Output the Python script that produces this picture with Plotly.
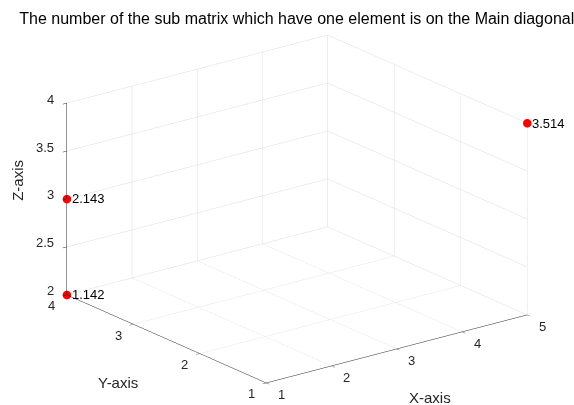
import plotly.graph_objects as go
import numpy as np

x_vals = [1, 1, 5]
y_vals = [4, 4, 1]
z_vals = [2, 3, 4]
labels = ["1.142", "2.143", "3.514"]

x_ticks = [1, 2, 3, 4, 5]
y_ticks = [1, 2, 3, 4]
z_ticks = [2, 2.5, 3, 3.5, 4]
z_tick_text = ["2", "2.5", "3", "3.5", "4"]

X_RANGE = [1, 5]
Y_RANGE = [1, 4]
Z_RANGE = [2, 4]

FONT = "Liberation Sans"
TICK_FONT = dict(family=FONT, size=13, color="#262626")
TITLE_FONT = dict(family=FONT, size=15, color="#262626")

fig = go.Figure()
fig.add_trace(go.Scatter3d(
    x=x_vals, y=y_vals, z=z_vals,
    mode="markers",
    marker=dict(size=5, color="#ff0000", line=dict(width=0)),
    hoverinfo="skip",
))

annotations = []
# data labels
for xv, yv, zv, t in zip(x_vals, y_vals, z_vals, labels):
    annotations.append(dict(x=xv, y=yv, z=zv, text=t, showarrow=False,
                            xanchor="left", yanchor="middle", xshift=3, yshift=0,
                            font=dict(family=FONT, size=13, color="#000000")))
# x tick labels (along y=min, z=min)
for v in x_ticks:
    annotations.append(dict(x=v, y=Y_RANGE[0], z=Z_RANGE[0], text=str(v), showarrow=False,
                            xanchor="center", yanchor="middle", xshift=15, yshift=-12, font=TICK_FONT))
# y tick labels (along x=min, z=min)
for v in y_ticks:
    annotations.append(dict(x=X_RANGE[0], y=v, z=Z_RANGE[0], text=str(v), showarrow=False,
                            xanchor="center", yanchor="middle", xshift=-15, yshift=-11, font=TICK_FONT))
# z tick labels (along x=min, y=max)
for v, t in zip(z_ticks, z_tick_text):
    annotations.append(dict(x=X_RANGE[0], y=Y_RANGE[1], z=v, text=t, showarrow=False,
                            xanchor="right", yanchor="middle", xshift=-11, yshift=4, font=TICK_FONT))
# axis titles
annotations.append(dict(x=(X_RANGE[0] + X_RANGE[1]) / 2, y=Y_RANGE[0], z=Z_RANGE[0], text="X-axis",
                        showarrow=False, xanchor="center", yanchor="middle", xshift=33, yshift=-49, font=TITLE_FONT))
annotations.append(dict(x=X_RANGE[0], y=(Y_RANGE[0] + Y_RANGE[1]) / 2, z=Z_RANGE[0], text="Y-axis",
                        showarrow=False, xanchor="center", yanchor="middle", xshift=-49, yshift=-44, font=TITLE_FONT))
annotations.append(dict(x=X_RANGE[0], y=Y_RANGE[1], z=(Z_RANGE[0] + Z_RANGE[1]) / 2, text="Z-axis",
                        showarrow=False, xanchor="center", yanchor="middle", xshift=-49, yshift=19,
                        textangle=-90, font=TITLE_FONT))

axis_common = dict(
    showbackground=False,
    gridcolor="#dcdcdc",
    gridwidth=1,
    showline=True,
    linecolor="#262626",
    linewidth=1,
    ticks="inside",
    ticklen=5,
    tickwidth=1,
    tickcolor="#262626",
    showticklabels=False,
    zeroline=False,
    showspikes=False,
    title=dict(text=""),
)

r = 2.5
eye_dir = np.array([-0.5735, -0.7458, 0.3395])
eye_dir = eye_dir / np.linalg.norm(eye_dir)
eye = dict(x=float(r*eye_dir[0]), y=float(r*eye_dir[1]), z=float(r*eye_dir[2]))

fig.update_layout(
    width=574, height=405,
    margin=dict(l=0, r=0, t=0, b=0),
    paper_bgcolor="white",
    showlegend=False,
    title=dict(text="The number of the sub matrix which have one element is on the Main diagonal",
               x=0.517, y=0.955, xanchor="center", yanchor="middle",
               font=dict(family=FONT, size=16, color="#000000")),
    scene=dict(
        domain=dict(x=[0.035, 1], y=[0, 0.968]),
        xaxis=dict(axis_common, range=X_RANGE, tickvals=x_ticks),
        yaxis=dict(axis_common, range=Y_RANGE, tickvals=y_ticks),
        zaxis=dict(axis_common, range=Z_RANGE, tickvals=z_ticks),
        aspectmode="manual",
        aspectratio=dict(x=1.679, y=1.670, z=1.040),
        camera=dict(eye=eye, up=dict(x=0, y=0, z=1), center=dict(x=0, y=0, z=0),
                    projection=dict(type="orthographic")),
        annotations=annotations,
    ),
)

fig.write_html("out.html")
